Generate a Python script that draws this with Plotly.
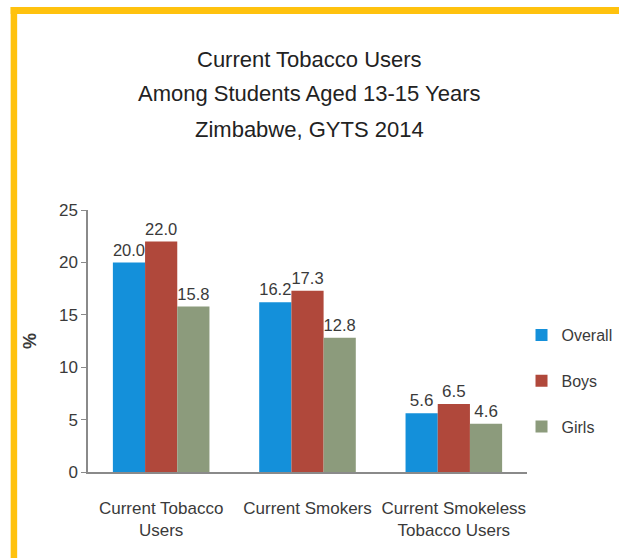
import plotly.graph_objects as go

# Data
categories = ["Current Tobacco<br>Users", "Current Smokers", "Current Smokeless<br>Tobacco Users"]
overall = [20.0, 16.2, 5.6]
boys = [22.0, 17.3, 6.5]
girls = [15.8, 12.8, 4.6]
series_names = ["Overall", "Boys", "Girls"]
series_colors = ["#1490DA", "#B0483B", "#8C9B7C"]
title_lines = ["Current Tobacco Users", "Among Students Aged 13-15 Years", "Zimbabwe, GYTS 2014"]

FONT = "Liberation Sans Narrow, Arial Narrow, Liberation Sans, Arial, sans-serif"
TXT = "#3a3a3a"

W, H = 619, 558
ML, MR, MT, MB = 87.5, 91.5, 210, 86
PW = W - ML - MR
PH = H - MT - MB

fig = go.Figure()
for name, vals, col in zip(series_names, [overall, boys, girls], series_colors):
    fig.add_trace(go.Bar(
        name=name, x=categories, y=vals, marker_color=col, marker_line_width=0,
        text=[f"{v:.1f}" for v in vals], textposition="outside",
        textfont=dict(family=FONT, size=17, color=TXT),
        cliponaxis=False, legendgroup=name,
    ))

# pixel -> paper helpers
def px(x):
    return (x - ML) / PW

def py(y):
    return (H - MB - y) / PH

shapes = [
    # gold frame along top and left edges
    dict(type="rect", xref="paper", yref="paper", x0=px(10), x1=px(640),
         y0=py(14), y1=py(7), fillcolor="#FFC20E", line_width=0, layer="above"),
    dict(type="rect", xref="paper", yref="paper", x0=px(10), x1=px(16.5),
         y0=py(580), y1=py(7), fillcolor="#FFC20E", line_width=0, layer="above"),
]

annotations = []
for i, line in enumerate(title_lines):
    annotations.append(dict(
        text=line, xref="paper", yref="paper", x=px(309.5), y=py(59 + 35 * i),
        xanchor="center", yanchor="middle", showarrow=False,
        font=dict(family=FONT, size=22, color="#222222"),
    ))

fig.update_layout(
    width=W, height=H,
    margin=dict(l=ML, r=MR, t=MT, b=MB, autoexpand=False),
    paper_bgcolor="white", plot_bgcolor="white",
    barmode="group", bargap=0.34, bargroupgap=0,
    font=dict(family=FONT, color=TXT),
    shapes=shapes, annotations=annotations,
    legend=dict(
        x=px(522), y=py(318), xanchor="left", yanchor="top",
        font=dict(family=FONT, size=16, color=TXT),
        tracegroupgap=22, itemwidth=30, bgcolor="rgba(0,0,0,0)",
    ),
    xaxis=dict(
        showline=True, linecolor="#8a8a8a", linewidth=1.5, ticks="",
        tickfont=dict(family=FONT, size=17, color=TXT),
        ticklabelstandoff=20,
    ),
    yaxis=dict(
        range=[0, 25], dtick=5, showgrid=False, zeroline=False,
        showline=True, linecolor="#8a8a8a", linewidth=1.5,
        ticks="outside", ticklen=5, tickcolor="#8a8a8a",
        tickfont=dict(family=FONT, size=17, color=TXT),
        title=dict(text="<b>%</b>", font=dict(family=FONT, size=18, color=TXT), standoff=18),
    ),
)

fig.write_html("out.html")
